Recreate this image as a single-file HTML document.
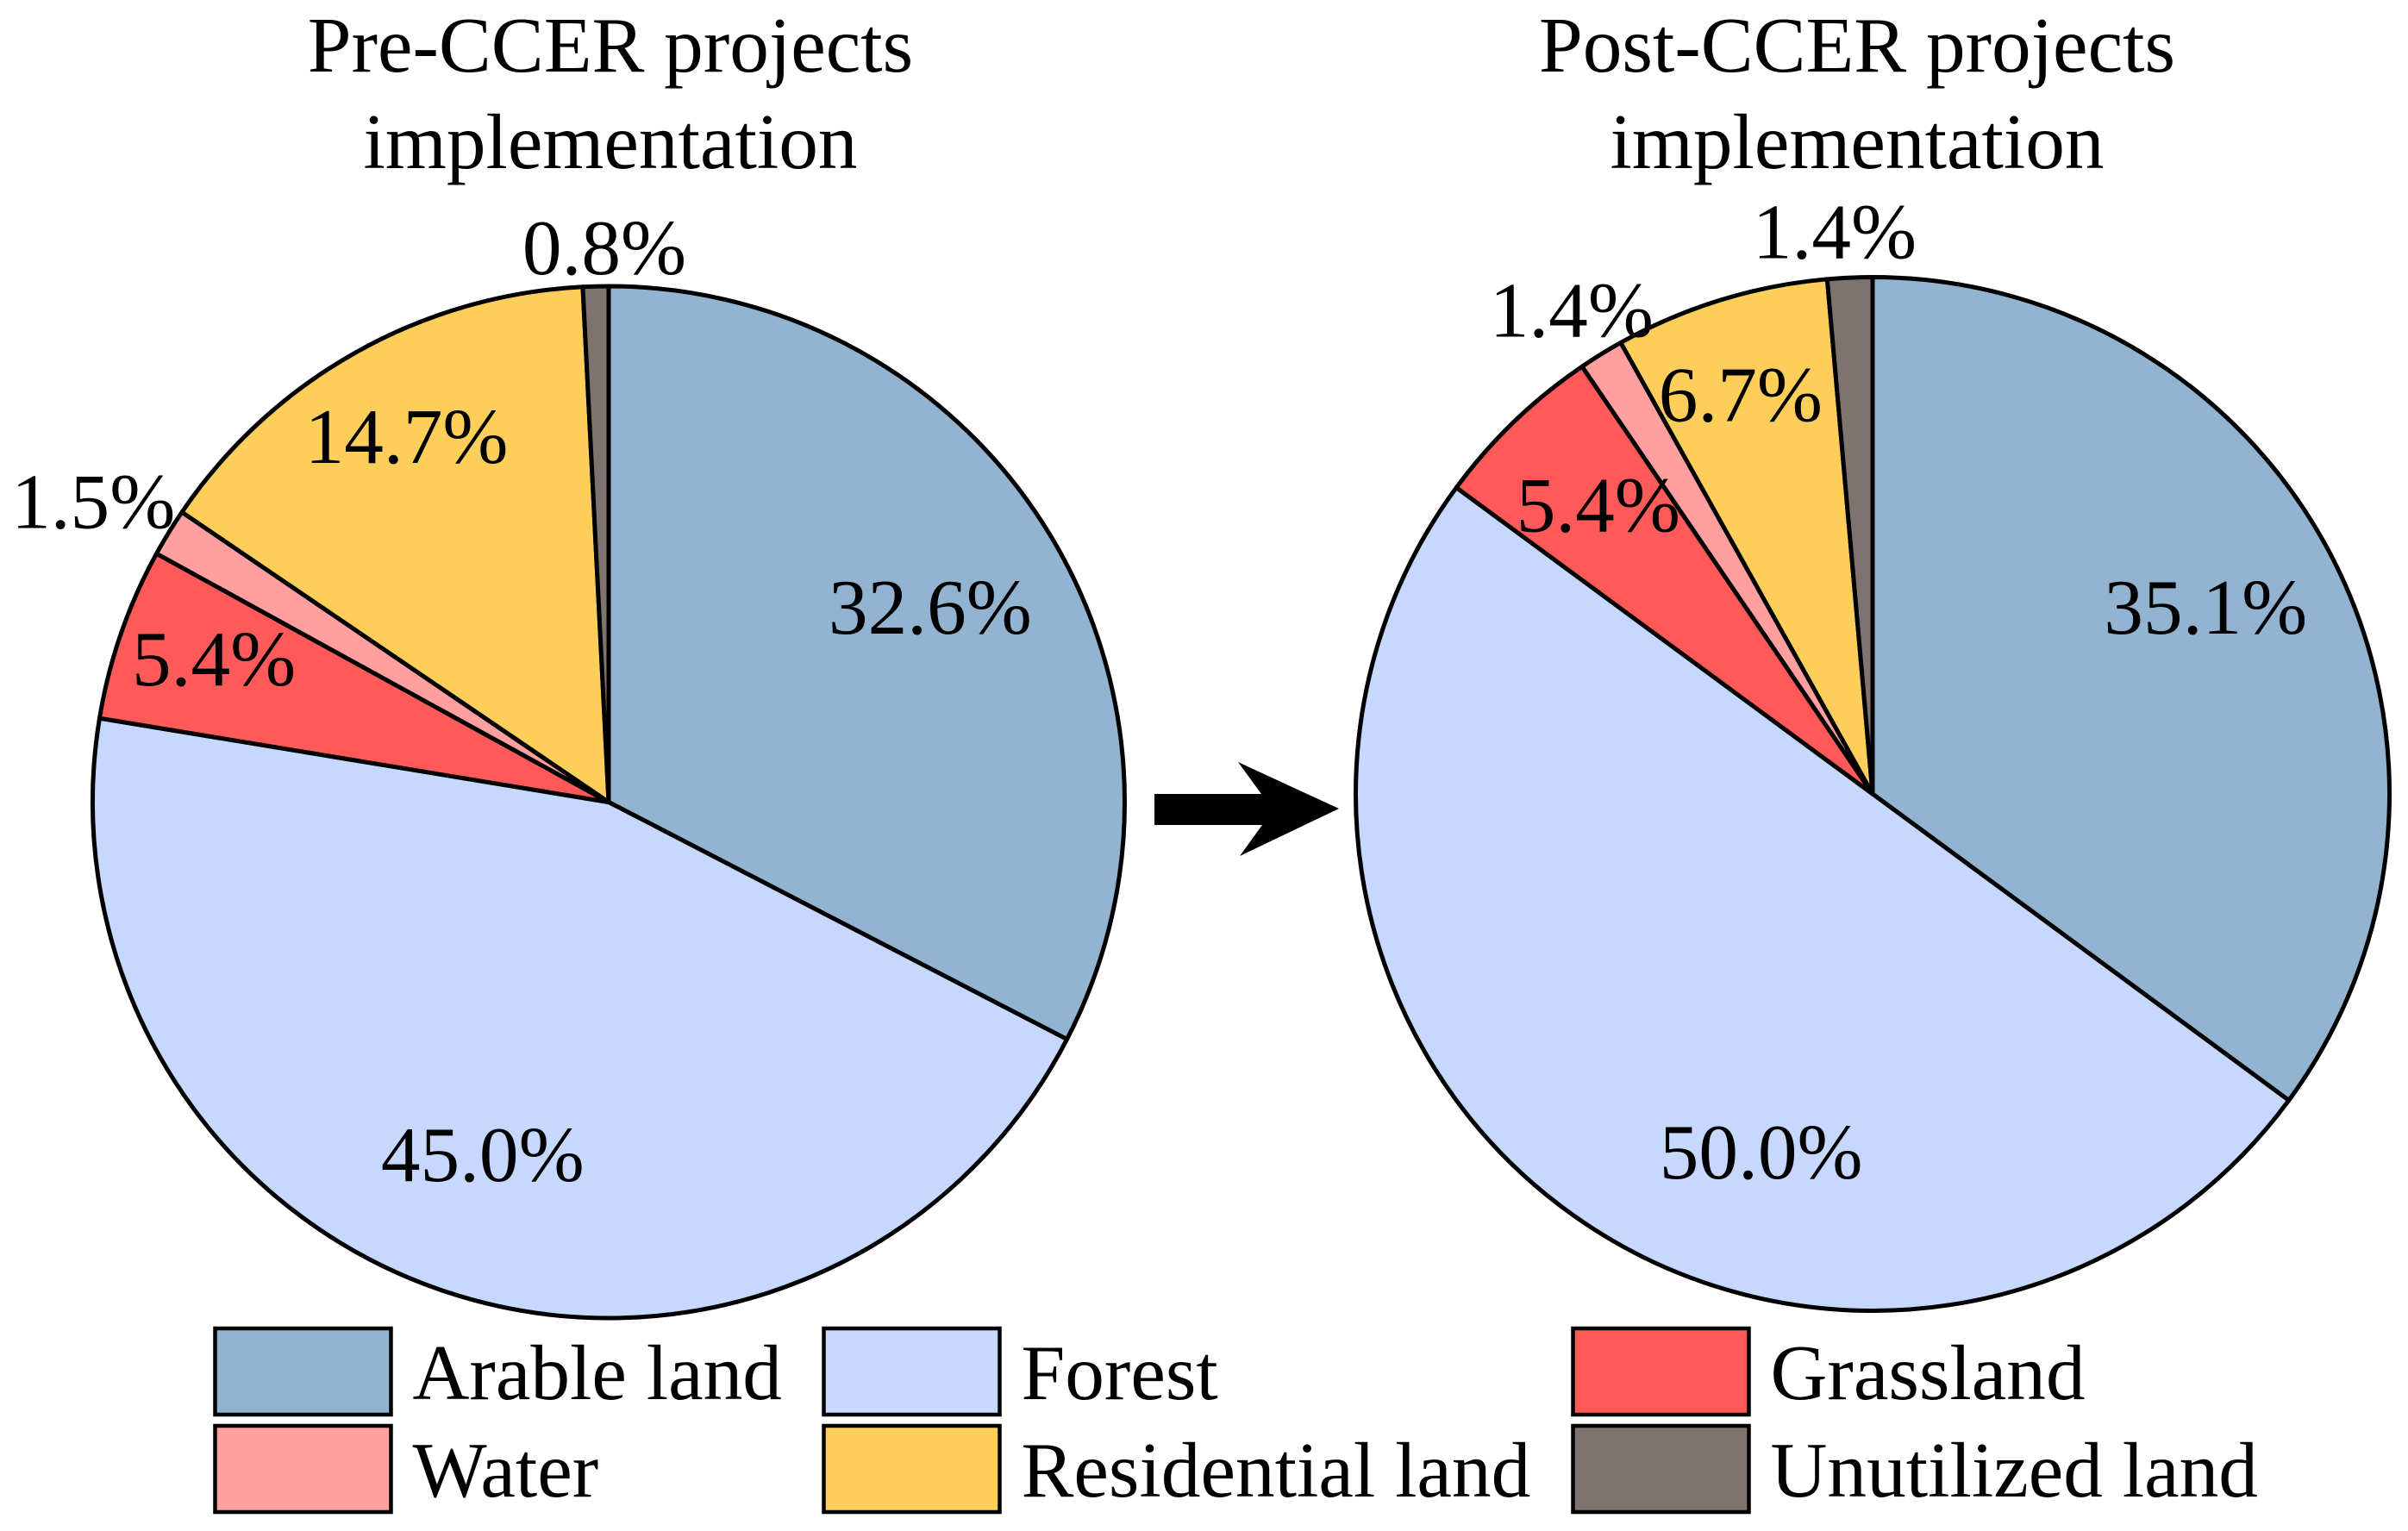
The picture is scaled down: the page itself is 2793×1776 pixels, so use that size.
<!DOCTYPE html>
<html lang="en">
<head>
<meta charset="utf-8">
<title>Land use before and after CCER projects</title>
<style>
html,body{margin:0;padding:0;background:#fff;}
svg{display:block;}
text{font-family:"Liberation Serif","Times New Roman",serif;font-size:91.3px;fill:#000;}
</style>
</head>
<body>
<svg id="chart" xmlns="http://www.w3.org/2000/svg" width="2793" height="1776" viewBox="0 0 2793 1776">
  <rect width="2793" height="1776" fill="#ffffff"/>
  <g text-anchor="middle">
    <text x="708" y="83">Pre-CCER projects</text>
    <text x="708" y="195">implementation</text>
  </g>
  <g text-anchor="middle">
    <text x="2154" y="83">Post-CCER projects</text>
    <text x="2154" y="195">implementation</text>
  </g>
  <polygon fill="#000" points="1339,921 1463,921 1436,884 1553,938 1438,993 1464,957 1339,957"/>
</svg>
<script>
var categories = ['Arable land', 'Forest', 'Grassland', 'Water', 'Residential land', 'Unutilized land'];
var preValues = [32.6, 45.0, 5.4, 1.5, 14.7, 0.8];
var postValues = [35.1, 50.0, 5.4, 1.4, 6.7, 1.4];
var sliceColors = ['#92B4D1', '#C6D8FD', '#FF5A5A', '#FF9F9F', '#FDCF5A', '#7E736E'];

var preLayout = {cx: 706, cy: 930.5, r: 598.5, name: 'pre-ccer',
  nudges: [[15, 22.1], [-14.3, 41.7], [-62, 1.2], [-240.6, -99.1], [-29.2, -28.1], [5.5, -193.6]]};
var postLayout = {cx: 2172, cy: 921, r: 599.5, name: 'post-ccer',
  nudges: [[11.8, 3.2], [119.5, 108.3], [-27.1, -2], [-128.8, -173.2], [-29.7, -31.2], [-25.6, -202.1]]};
var legendCols = [249, 955, 1824];
var legendRows = [1541, 1654];

var NS = 'http://www.w3.org/2000/svg';
var svg = document.getElementById('chart');

function make(tag, parent) {
  var el = document.createElementNS(NS, tag);
  parent.appendChild(el);
  return el;
}
function polar(layout, pct, radius) {
  var a = pct / 100 * 2 * Math.PI;
  return [layout.cx + radius * Math.sin(a), layout.cy - radius * Math.cos(a)];
}
function slug(s) {
  return s.toLowerCase().replace(/\s+/g, '-');
}
function drawPie(values, layout) {
  var group = make('g', svg);
  
  
  var total = values.reduce(function (s, v) { return s + v; }, 0);
  var acc = 0;
  values.forEach(function (v, i) {
    var share = v / total * 100;
    var start = polar(layout, acc, layout.r);
    var end = polar(layout, acc + share, layout.r);
    var large = share > 50 ? 1 : 0;
    var slice = make('path', group);
    
    
    slice.setAttribute('d', 'M' + layout.cx + ' ' + layout.cy + 'L' + start[0] + ' ' + start[1] +
      'A' + layout.r + ' ' + layout.r + ' 0 ' + large + ' 1 ' + end[0] + ' ' + end[1] + 'Z');
    slice.setAttribute('fill', sliceColors[i]);
    slice.setAttribute('stroke', '#000');
    slice.setAttribute('stroke-width', '5');
    slice.setAttribute('stroke-linejoin', 'round');
    acc += share;
  });
  acc = 0;
  values.forEach(function (v, i) {
    var share = v / total * 100;
    var p = polar(layout, acc + share / 2, layout.r * 0.7);
    var label = make('text', group);
    
    
    label.setAttribute('x', p[0] + layout.nudges[i][0]);
    label.setAttribute('y', p[1] + layout.nudges[i][1]);
    label.setAttribute('text-anchor', 'middle');
    label.textContent = v.toFixed(1) + '%';
    acc += share;
  });
}
function drawLegend() {
  var group = make('g', svg);
  
  
  categories.forEach(function (name, i) {
    var x = legendCols[i % 3];
    var y = legendRows[Math.floor(i / 3)];
    var entry = make('g', group);
    
    
    var swatch = make('rect', entry);
    
    
    swatch.setAttribute('x', x + 0.5);
    swatch.setAttribute('y', y);
    swatch.setAttribute('width', 204);
    swatch.setAttribute('height', 100);
    swatch.setAttribute('fill', sliceColors[i]);
    swatch.setAttribute('stroke', '#000');
    swatch.setAttribute('stroke-width', '4.5');
    var text = make('text', entry);
    
    
    text.setAttribute('x', x + 229.5);
    text.setAttribute('y', y + 82);
    text.textContent = name;
  });
}
drawPie(preValues, preLayout);
drawPie(postValues, postLayout);
drawLegend();
</script>
</body>
</html>
